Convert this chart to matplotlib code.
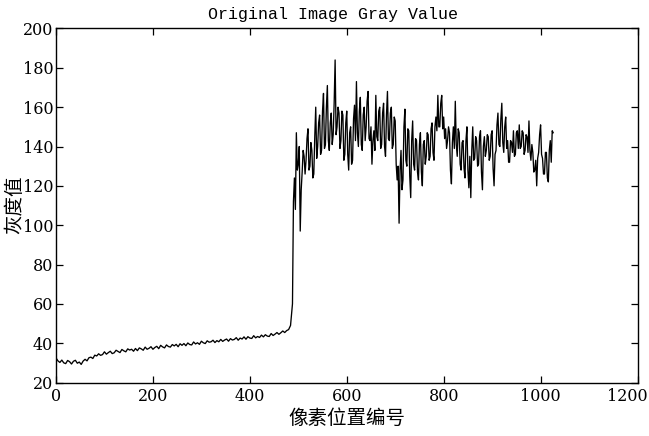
import numpy as np
import matplotlib
matplotlib.use("Agg")
import matplotlib.pyplot as plt

# Gray values.
# Dark part: one value every 4 pixel positions starting at 0
gray_low = [32.5, 31, 30.2, 31.4, 30, 29.6, 31.2, 30.6, 29.4, 30.8, 31.3, 29.8, 30.4, 29.2, 30.9, 31.8,
            31, 32.6, 32.9, 32.2, 33.9, 33.5, 34.6, 33.8, 34.2,
            35.6, 34.4, 35.2, 35.9, 34.7, 35.1, 36.4, 35.8, 35.2, 36.8, 36.1, 35.6, 37.1, 36.5, 36.9, 35.9,
            37.3, 36.2, 37.6, 37.1, 36.4, 38, 36.9, 37.4, 38.2, 36.9, 37.8, 38.4, 37.2, 38.9, 38.1, 37.6,
            39.1, 38.3, 38.0, 39.3, 38.6, 39.4, 38.2, 39.7, 38.9, 39.8, 38.7, 40.1, 39.3, 39.1, 40.6, 39.6,
            40.2, 39.4, 41, 40.2, 39.8, 41.2, 40.5, 40.7, 41.5, 40.3, 41.3, 40.7, 41.9, 40.9, 41.6, 42.1,
            41, 42.3, 41.6, 41.9, 42.8, 41.5, 42.6, 42.1, 43.2, 42.0, 43.3, 42.6, 42.4, 43.8, 42.7, 43.4,
            42.9, 44.1, 43.2, 44.3, 43.6, 43.4, 44.9, 43.9, 44.6, 45.4, 44.5, 45.3, 46.2, 45.4, 46.4, 46.9,
            49]
# Bright part: one value every 2 pixel positions starting at 488
gray_high = [60, 112, 124, 108, 147, 128, 131, 140, 97, 118, 127, 138, 135, 126, 133, 144,
             149, 128, 130, 142, 138, 124, 126, 145, 160, 134, 140, 152, 156, 136, 138, 158,
             167, 139, 141, 160, 171, 143, 138, 152, 157, 141, 146, 162, 184, 146, 150, 160,
             157, 139, 143, 158, 156, 133, 136, 152, 158, 136, 128, 147, 150, 131, 133, 154,
             161, 143, 173, 147, 140, 158, 165, 141, 138, 156, 160, 143, 150, 163, 168, 144,
             143, 150, 131, 143, 148, 138, 166, 145, 143, 158, 160, 139, 141, 157, 162, 140,
             135, 156, 168, 144, 143, 157, 160, 139, 141, 155, 153, 131, 123, 130, 101, 128,
             138, 118, 123, 150, 159, 133, 130, 149, 148, 125, 114, 143, 153, 131, 128, 144,
             143, 127, 123, 141, 147, 127, 120, 141, 143, 131, 135, 147, 146, 133, 135, 149,
             152, 137, 133, 150, 155, 148, 166, 150, 150, 162, 166, 149, 155, 144, 149, 139,
             143, 150, 147, 128, 121, 142, 150, 139, 163, 141, 135, 149, 147, 131, 128, 142,
             143, 129, 124, 143, 150, 128, 119, 135, 114, 138, 150, 133, 134, 145, 143, 130,
             131, 145, 148, 127, 118, 140, 145, 135, 138, 146, 145, 133, 135, 146, 148, 129,
             120, 136, 138, 151, 157, 141, 140, 154, 162, 142, 137, 150, 155, 139, 143, 132,
             132, 143, 142, 137, 148, 135, 136, 147, 148, 139, 151, 139, 140, 148, 147, 136,
             138, 146, 145, 137, 153, 138, 133, 141, 137, 127, 128, 133, 120, 134, 137, 146,
             151, 136, 134, 126, 126, 137, 137, 124, 122, 138, 143, 132, 148, 147]
low_step, high_start, high_step = 4, 488, 2
gray = np.array(gray_low + gray_high, dtype=float)
pixel_pos = np.concatenate([np.arange(len(gray_low)) * low_step,
                            high_start + np.arange(len(gray_high)) * high_step])

x_ticks = [0, 200, 400, 600, 800, 1000, 1200]
y_ticks = [20, 40, 60, 80, 100, 120, 140, 160, 180, 200]

title_text = "Original Image Gray Value"
x_label = "像素位置编号"
y_label = "灰度值"

W, H = 649, 436
fig = plt.figure(figsize=(W / 100, H / 100), dpi=100)
ax = fig.add_axes([56 / W, 1 - 382.5 / H, (637.5 - 56) / W, (382.5 - 28.5) / H])

ax.plot(pixel_pos, gray, color="black", linewidth=0.95)

ax.set_xlim(0, 1200)
ax.set_ylim(20, 200)
ax.set_xticks(x_ticks)
ax.set_yticks(y_ticks)
num_font = {"family": "DejaVu Serif", "size": 11.5}
ax.set_xticklabels([str(v) for v in x_ticks[:-1]] + [""], fontdict=num_font)
ax.set_yticklabels([str(v) for v in y_ticks], fontdict=num_font)
ax.annotate(str(x_ticks[-1]), xy=(x_ticks[-1], 20), xycoords="data",
            xytext=(-10, -5), textcoords="offset pixels", ha="center", va="top",
            fontfamily="DejaVu Serif", fontsize=11.5, annotation_clip=False)
ax.tick_params(direction="in", length=5, width=0.9, top=True, right=True,
               labeltop=False, labelright=False)
ax.tick_params(axis="x", pad=4)
ax.tick_params(axis="y", pad=2)
for s in ax.spines.values():
    s.set_linewidth(1.0)

fig.text(333 / W, 1 - 15 / H, title_text, ha="center", va="center",
         fontfamily="Liberation Mono", fontsize=12)
fig.text(347 / W, 1 - 418 / H, x_label, ha="center", va="center",
         fontfamily=["Noto Sans CJK SC", "DejaVu Sans"], fontsize=14)
fig.text(15 / W, 1 - 205 / H, y_label, ha="center", va="center", rotation=90,
         fontfamily=["Noto Sans CJK SC", "DejaVu Sans"], fontsize=14)

fig.savefig("out.png", dpi=100)
